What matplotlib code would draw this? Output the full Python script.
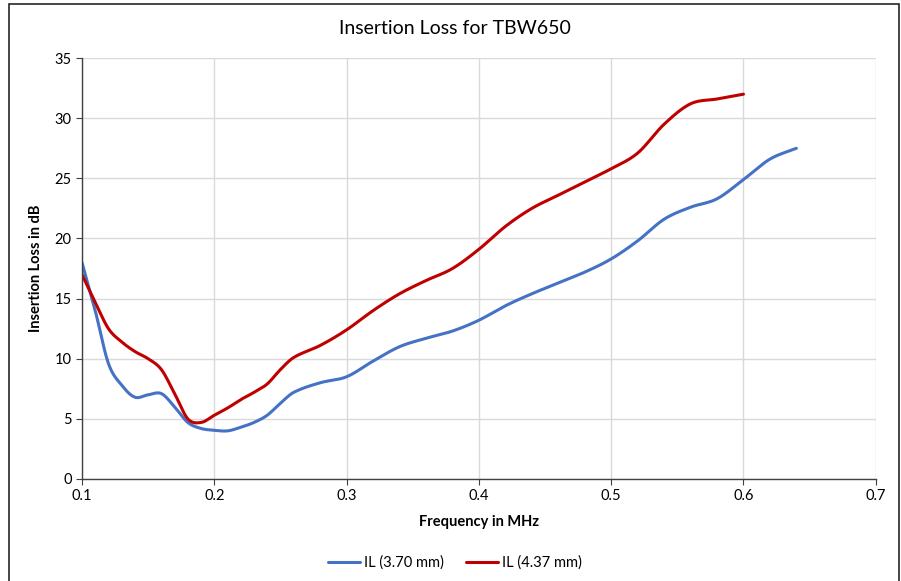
import numpy as np
from matplotlib import pyplot as plt
from matplotlib.patches import Rectangle

# values
freq_a = [0.10, 0.11, 0.12, 0.13, 0.14, 0.15, 0.16, 0.17, 0.18, 0.19, 0.20,
          0.21, 0.22, 0.23, 0.24, 0.25, 0.26, 0.28, 0.30, 0.32, 0.34, 0.36,
          0.38, 0.40, 0.42, 0.44, 0.46, 0.48, 0.50, 0.52, 0.54, 0.56, 0.58,
          0.60, 0.62, 0.64]
il_370 = [18.0, 14.0, 9.6, 7.8, 6.8, 7.0, 7.1, 6.0, 4.7, 4.2, 4.05,
          4.0, 4.3, 4.7, 5.3, 6.3, 7.2, 8.0, 8.5, 9.8, 11.0, 11.7,
          12.3, 13.2, 14.4, 15.4, 16.3, 17.2, 18.3, 19.8, 21.6, 22.6, 23.3,
          24.9, 26.6, 27.5]

freq_b = [0.10, 0.11, 0.12, 0.13, 0.14, 0.15, 0.16, 0.17, 0.18, 0.19, 0.20,
          0.21, 0.22, 0.23, 0.24, 0.25, 0.26, 0.28, 0.30, 0.32, 0.34, 0.36,
          0.38, 0.40, 0.42, 0.44, 0.46, 0.48, 0.50, 0.52, 0.54, 0.56, 0.58,
          0.60]
il_437 = [17.0, 14.7, 12.5, 11.4, 10.6, 10.0, 9.1, 7.1, 5.0, 4.7, 5.3,
          5.9, 6.6, 7.2, 7.9, 9.1, 10.1, 11.1, 12.4, 14.0, 15.4, 16.5,
          17.5, 19.1, 21.0, 22.5, 23.6, 24.7, 25.8, 27.1, 29.5, 31.2, 31.6,
          32.0]

series = [('IL (3.70 mm)', freq_a, il_370, '#4472C4'),
          ('IL (4.37 mm)', freq_b, il_437, '#C00000')]


def smooth(x, y, steps=30):
    '''Cubic Hermite through the points (smoothed line look).'''
    x = np.asarray(x, float)
    y = np.asarray(y, float)
    m = np.empty_like(y)
    m[1:-1] = (y[2:] - y[:-2]) / (x[2:] - x[:-2])
    m[0] = (y[1] - y[0]) / (x[1] - x[0])
    m[-1] = (y[-1] - y[-2]) / (x[-1] - x[-2])
    t = np.linspace(0, 1, steps, endpoint=False)
    h00 = 2 * t ** 3 - 3 * t ** 2 + 1
    h10 = t ** 3 - 2 * t ** 2 + t
    h01 = -2 * t ** 3 + 3 * t ** 2
    h11 = t ** 3 - t ** 2
    out_x, out_y = [], []
    for i in range(len(x) - 1):
        dx = x[i + 1] - x[i]
        out_x.extend(x[i] + t * dx)
        out_y.extend(h00 * y[i] + h10 * dx * m[i] + h01 * y[i + 1] + h11 * dx * m[i + 1])
    out_x.append(x[-1])
    out_y.append(y[-1])
    return out_x, out_y


plt.rcParams['font.family'] = ['Lato', 'DejaVu Sans']

fig = plt.figure(figsize=(9.01, 5.81), dpi=100)
ax = fig.add_axes([0.091, 0.1756, 0.881, 0.7244])

for label, fx, fy, color in series:
    sx, sy = smooth(fx, fy)
    ax.plot(sx, sy, color=color, lw=2.2, label=label, solid_capstyle='round')

ax.set_xlim(0.1, 0.7)
ax.set_ylim(0, 35)
ax.set_xticks(np.arange(0.1, 0.71, 0.1))
ax.set_xticklabels(['0.1', '0.2', '0.3', '0.4', '0.5', '0.6', '0.7'])
ax.set_yticks(range(0, 36, 5))
ax.grid(True, color='#D9D9D9', lw=1)
ax.set_axisbelow(True)
for side in ('top', 'right'):
    ax.spines[side].set_visible(False)
for side in ('left', 'bottom'):
    ax.spines[side].set_color('#404040')
    ax.spines[side].set_linewidth(1)
ax.tick_params(colors='#404040', labelcolor='black', labelsize=10.5,
               length=4, direction='out')

# the title sits over the whole chart, not over the plot area
fig.text(0.505, 1 - 28 / 581, 'Insertion Loss for TBW650', fontsize=14,
         ha='center', va='center')
ax.set_xlabel('Frequency in MHz', fontsize=10.5, fontweight='bold', labelpad=8)
ax.set_ylabel('Insertion Loss in dB', fontsize=10.5, fontweight='bold', labelpad=8)

fig.legend(loc='center', bbox_to_anchor=(0.505, 0.031), ncol=2, frameon=False,
           fontsize=10.5, handlelength=2.2, handletextpad=0.3, columnspacing=1.5)

# outer chart frame, running off the bottom of the image
fig.patches.append(Rectangle((9 / 901, -0.05), 890 / 901, 1.05 - 4 / 581,
                             transform=fig.transFigure, fill=False,
                             edgecolor='#262626', lw=1.2))

fig.savefig('out.png', dpi=100)
